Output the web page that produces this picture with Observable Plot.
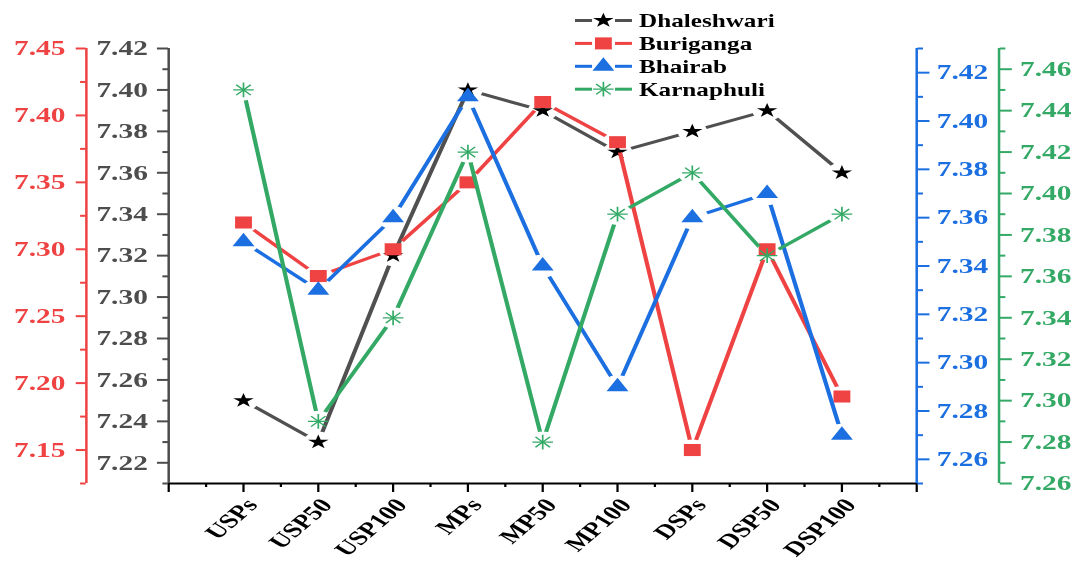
<!DOCTYPE html>
<html>
<head>
<meta charset="utf-8">
<script src="https://cdn.jsdelivr.net/npm/d3@7"></script>
<script src="https://cdn.jsdelivr.net/npm/@observablehq/plot@0.6"></script>
<style>
  html, body { margin: 0; padding: 0; background: #fff; }
  /* the chart is laid out on a narrower canvas and widened horizontally */
  #chart { position: relative; width: 771px; height: 566px; transform: scaleX(1.4); transform-origin: 0 0; }
  #chart > svg { position: absolute; left: 0; top: 0; }
</style>
</head>
<body>
<div id="chart"></div>
<script>
// ---- data ----
const categories = ["USPs", "USP50", "USP100", "MPs", "MP50", "MP100", "DSPs", "DSP50", "DSP100"];
const seriesNames = ["Dhaleshwari", "Buriganga", "Bhairab", "Karnaphuli"];

const dhaleshwari = [7.25, 7.23, 7.32, 7.40, 7.39, 7.37, 7.38, 7.39, 7.36];
const buriganga   = [7.32, 7.28, 7.30, 7.35, 7.41, 7.38, 7.15, 7.30, 7.19];
const bhairab     = [7.35, 7.33, 7.36, 7.41, 7.34, 7.29, 7.36, 7.37, 7.27];
const karnaphuli  = [7.45, 7.29, 7.34, 7.42, 7.28, 7.39, 7.41, 7.37, 7.39];

// axis tick labels for each of the four y axes
const dhaleshwariTicks = [7.22, 7.24, 7.26, 7.28, 7.30, 7.32, 7.34, 7.36, 7.38, 7.40, 7.42];
const burigangaTicks   = [7.15, 7.20, 7.25, 7.30, 7.35, 7.40, 7.45];
const bhairabTicks     = [7.26, 7.28, 7.30, 7.32, 7.34, 7.36, 7.38, 7.40, 7.42];
const karnaphuliTicks  = [7.26, 7.28, 7.30, 7.32, 7.34, 7.36, 7.38, 7.40, 7.42, 7.44, 7.46];

// axis ranges
const dhaleshwariDomain = [7.21, 7.42];
const burigangaDomain   = [7.125, 7.45];
const bhairabDomain     = [7.25, 7.43];
const karnaphuliDomain  = [7.26, 7.47];

// ---- layout ----
const W = 771, H = 566;
const M = {top: 48, right: 116.7, bottom: 83, left: 120};
const outerAxisOffset = 58.8;
const FONT = "'Liberation Serif', 'Times New Roman', serif";

const colors = {
  Dhaleshwari: {line: "#505050", mark: "#000000", axis: "#4d4d4d"},
  Buriganga:   {line: "#ef4343", mark: "#ef4343", axis: "#ef4343"},
  Bhairab:     {line: "#1c6fe0", mark: "#1c6fe0", axis: "#1c6fe0"},
  Karnaphuli:  {line: "#33a965", mark: "#33a965", axis: "#33a965"}
};

const fmt = d3.format(".2f");

// minor ticks sit halfway between labelled ticks
function minorTicks(ticks, domain) {
  const step = ticks[1] - ticks[0];
  const out = [];
  for (let i = -1; i < ticks.length; i++) {
    const v = ticks[0] + (i + 0.5) * step;
    if (v >= domain[0] - 1e-9 && v <= domain[1] + 1e-9) out.push(v);
  }
  return out;
}

function yAxis(ticks, domain, anchor, dx, color, tickSize, tickPadding) {
  const edge = anchor === "left" ? 0 : categories.length + 1;
  return [
    Plot.ruleX([edge], {dx, stroke: color, strokeWidth: 1.8}),
    Plot.axisY({ticks: minorTicks(ticks, domain), anchor, dx, tickSize: 4, stroke: color, strokeWidth: 2,
      fill: "none", label: null}),
    Plot.axisY({ticks, anchor, dx, tickSize, tickPadding, tickFormat: fmt, stroke: color, fill: color,
      strokeWidth: 2, fontSize: 21, fontWeight: "bold", fontFamily: FONT, label: null})
  ];
}

const markerSpecs = {
  Dhaleshwari: (rows, c) => [Plot.dot(rows, {x: "pos", y: "value", symbol: "star", r: 4.6, fill: c.mark, stroke: null})],
  Buriganga:   (rows, c) => [Plot.dot(rows, {x: "pos", y: "value", symbol: "square", r: 6.8, fill: c.mark, stroke: null})],
  Bhairab:     (rows, c) => [Plot.dot(rows, {x: "pos", y: "value", symbol: "triangle", r: 5.8, fill: c.mark, stroke: null})],
  Karnaphuli:  (rows, c) => [
    Plot.dot(rows, {x: "pos", y: "value", symbol: "plus", r: 4.8, stroke: c.mark, strokeWidth: 1.2}),
    Plot.dot(rows, {x: "pos", y: "value", symbol: "times", r: 4.8, stroke: c.mark, strokeWidth: 1.2})
  ]
};

const xAxisMarks = [
  Plot.ruleY([dhaleshwariDomain[0]], {stroke: "#000", strokeWidth: 2}),
  Plot.axisX({ticks: d3.range(0, categories.length + 2), tickSize: 9, stroke: "#000", strokeWidth: 1.6,
    fill: "none", label: null}),
  Plot.axisX({ticks: d3.range(0.5, categories.length + 1, 1), tickSize: 4, stroke: "#000", strokeWidth: 1.6,
    fill: "none", label: null}),
  Plot.text(categories, {x: (d, i) => i + 1, text: d => d, frameAnchor: "bottom", rotate: -50,
    textAnchor: "end", lineAnchor: "top", dx: 0, dy: 13,
    fontSize: 20, fontWeight: "bold", fontFamily: FONT, fill: "#000"})
];

const layers = [
  {name: "Dhaleshwari", values: dhaleshwari, domain: dhaleshwariDomain, gap: 10.5,
   axis: c => [...xAxisMarks, ...yAxis(dhaleshwariTicks, dhaleshwariDomain, "left", 0, c.axis, 7.9, 7)]},
  {name: "Buriganga", values: buriganga, domain: burigangaDomain, gap: 10.5,
   axis: c => yAxis(burigangaTicks, burigangaDomain, "left", -outerAxisOffset, c.axis, 7.1, 7.9)},
  {name: "Bhairab", values: bhairab, domain: bhairabDomain, gap: 11.5,
   axis: c => yAxis(bhairabTicks, bhairabDomain, "right", 0, c.axis, 8.6, 5.7)},
  {name: "Karnaphuli", values: karnaphuli, domain: karnaphuliDomain, gap: 10.5,
   axis: c => yAxis(karnaphuliTicks, karnaphuliDomain, "right", outerAxisOffset, c.axis, 8.6, 6.4)}
];

const chart = document.getElementById("chart");
const ns = "http://www.w3.org/2000/svg";

layers.forEach((L, li) => {
  const c = colors[L.name];
  const rows = categories.map((cat, i) => ({category: cat, pos: i + 1, value: L.values[i]}));
  const svg = Plot.plot({
    width: W, height: H,
    marginTop: M.top, marginRight: M.right, marginBottom: M.bottom, marginLeft: M.left,
    x: {domain: [0, categories.length + 1], axis: null},
    y: {domain: L.domain, axis: null},
    style: {background: "transparent", overflow: "visible", fontFamily: FONT},
    marks: [
      ...L.axis(c),
      Plot.line(rows, {x: "pos", y: "value", stroke: c.line, strokeWidth: 3}),
      Plot.dot(rows, {x: "pos", y: "value", r: L.gap, fill: "black", stroke: null}),
      ...markerSpecs[L.name](rows, c)
    ]
  });

  // break the connecting line around its own symbols
  const halo = svg.querySelector(':scope > g[aria-label="dot"]');
  const lineG = svg.querySelector(':scope > g[aria-label="line"]');
  if (halo && lineG) {
    const id = "gap-" + li;
    const defs = document.createElementNS(ns, "defs");
    const mask = document.createElementNS(ns, "mask");
    mask.setAttribute("id", id);
    mask.setAttribute("maskUnits", "userSpaceOnUse");
    mask.setAttribute("x", 0); mask.setAttribute("y", 0);
    mask.setAttribute("width", W); mask.setAttribute("height", H);
    const bg = document.createElementNS(ns, "rect");
    bg.setAttribute("width", W); bg.setAttribute("height", H); bg.setAttribute("fill", "white");
    mask.append(bg, halo);
    defs.append(mask);
    svg.prepend(defs);
    const wrap = document.createElementNS(ns, "g");
    wrap.setAttribute("mask", `url(#${id})`);
    lineG.replaceWith(wrap);
    wrap.append(lineG);
  }
  chart.append(svg);
});

// ---- legend ----
const legendSymbols = {
  Dhaleshwari: [{type: d3.symbolStar, r: 4.6, fill: true}],
  Buriganga: [{type: d3.symbolSquare, r: 6.8, fill: true}],
  Bhairab: [{type: d3.symbolTriangle, r: 5.8, fill: true}],
  Karnaphuli: [{type: d3.symbolPlus, r: 4.8, fill: false}, {type: d3.symbolTimes, r: 4.8, fill: false}]
};
const legend = d3.create("svg").attr("width", W).attr("height", 110);
seriesNames.forEach((name, i) => {
  const c = colors[name];
  const g = legend.append("g").attr("transform", `translate(0,${20.5 + 22.9 * i})`);
  g.append("line").attr("x1", 410.7).attr("x2", 422.9).attr("stroke", c.line).attr("stroke-width", 3);
  g.append("line").attr("x1", 439.3).attr("x2", 451.4).attr("stroke", c.line).attr("stroke-width", 3);
  legendSymbols[name].forEach(s => {
    const p = g.append("path")
      .attr("transform", "translate(431,0)")
      .attr("d", d3.symbol(s.type, Math.PI * s.r * s.r)());
    if (s.fill) p.attr("fill", c.mark);
    else p.attr("fill", "none").attr("stroke", c.mark).attr("stroke-width", 1.2);
  });
  g.append("text").attr("x", 456.4).attr("y", 6.3)
    .attr("font-family", FONT).attr("font-weight", "bold").attr("font-size", 18)
    .attr("fill", "#000").text(name);
});
chart.append(legend.node());
</script>
</body>
</html>
